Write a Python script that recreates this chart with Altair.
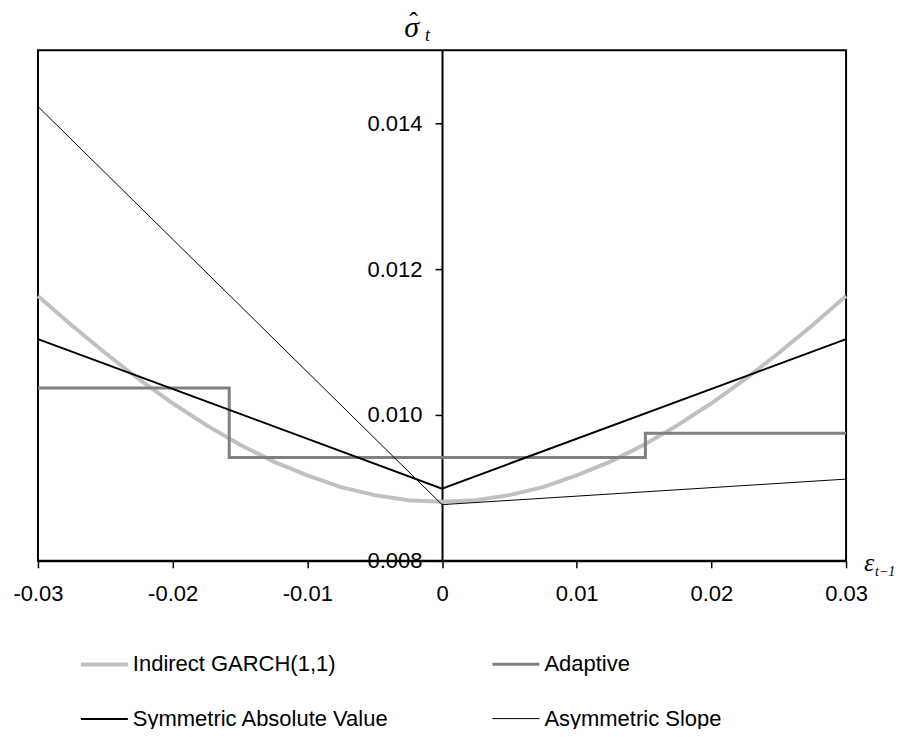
import altair as alt
import pandas as pd

# ---- data ----
series = ["Indirect GARCH(1,1)", "Adaptive", "Symmetric Absolute Value", "Asymmetric Slope"]
colors = ["#c0c0c0", "#808080", "#000000", "#000000"]

x_garch = [-0.03, -0.0275, -0.025, -0.0225, -0.02, -0.0175, -0.015, -0.0125, -0.01, -0.0075,
           -0.005, -0.0025, 0.0, 0.0025, 0.005, 0.0075, 0.01, 0.0125, 0.015, 0.0175,
           0.02, 0.0225, 0.025, 0.0275, 0.03]
y_garch = [0.01163, 0.01123, 0.01085, 0.01049, 0.01016, 0.00986, 0.00959, 0.00936, 0.00917, 0.00901,
           0.00890, 0.00883, 0.00881, 0.00883, 0.00890, 0.00901, 0.00917, 0.00936, 0.00959, 0.00986,
           0.01016, 0.01049, 0.01085, 0.01123, 0.01163]

x_adaptive = [-0.03, -0.0158, -0.0158, 0.0151, 0.0151, 0.03]
y_adaptive = [0.01037, 0.01037, 0.009415, 0.009415, 0.00975, 0.00975]

x_sym = [-0.03, 0.0, 0.03]
y_sym = [0.01104, 0.00899, 0.01104]

x_asym = [-0.03, 0.0, 0.03]
y_asym = [0.01423, 0.00877, 0.00912]

x_ticks = [-0.03, -0.02, -0.01, 0.0, 0.01, 0.02, 0.03]
y_ticks = [0.008, 0.010, 0.012, 0.014]

rows = []
for name, xs, ys in [(series[0], x_garch, y_garch), (series[1], x_adaptive, y_adaptive),
                     (series[2], x_sym, y_sym), (series[3], x_asym, y_asym)]:
    for i, (a, b) in enumerate(zip(xs, ys)):
        rows.append({"series": name, "eps": a, "sigma": b, "idx": i})
df = pd.DataFrame(rows)

legend = alt.Legend(
    title=None, orient="none", legendX=41, legendY=589, columns=2, direction="horizontal",
    columnPadding=97, rowPadding=19, symbolType="stroke", symbolSize=2209,
    labelFont="Liberation Sans", labelFontSize=22, labelColor="black",
    labelOffset=3, labelLimit=400,
)

lines = alt.Chart(df).mark_line().encode(
    x=alt.X("eps:Q", scale=alt.Scale(domain=[-0.03, 0.03], nice=False, zero=False),
            axis=alt.Axis(values=x_ticks, labelExpr="'' + datum.value", title=None, grid=False,
                          tickSize=7, tickWidth=1.5, tickColor="black", domainColor="black",
                          domainWidth=2, labelFont="Liberation Sans", labelFontSize=22,
                          labelColor="black", labelPadding=16, labelFlush=False)),
    y=alt.Y("sigma:Q", scale=alt.Scale(domain=[0.008, 0.015], nice=False, zero=False),
            axis=alt.Axis(values=y_ticks, format=".3f", title=None, grid=False, offset=-404.5,
                          tickSize=7, tickWidth=1.5, tickColor="black", domainColor="black",
                          domainWidth=2, labelFont="Liberation Sans", labelFontSize=22,
                          labelColor="black", labelPadding=13)),
    color=alt.Color("series:N", scale=alt.Scale(domain=series, range=colors), legend=legend),
    strokeWidth=alt.StrokeWidth("series:N", scale=alt.Scale(domain=series, range=[4, 1], padding=0),
                                legend=legend),
    order="idx:Q",
)

sigma_lbl = alt.Chart(pd.DataFrame({"t": ["σ"]})).mark_text(
    font="Liberation Serif", fontStyle="italic", fontSize=30, color="black"
).encode(text="t:N", x=alt.value(374), y=alt.value(-22))
sigma_hat = alt.Chart(pd.DataFrame({"t": ["ˆ"]})).mark_text(
    font="Liberation Serif", fontSize=26, color="black"
).encode(text="t:N", x=alt.value(376), y=alt.value(-28))
sigma_sub = alt.Chart(pd.DataFrame({"t": ["t"]})).mark_text(
    font="Liberation Serif", fontStyle="italic", fontSize=18, color="black"
).encode(text="t:N", x=alt.value(390), y=alt.value(-14))
eps_lbl = alt.Chart(pd.DataFrame({"t": ["ε"]})).mark_text(
    font="Liberation Serif", fontStyle="italic", fontSize=26, color="black"
).encode(text="t:N", x=alt.value(832), y=alt.value(513))
eps_sub = alt.Chart(pd.DataFrame({"t": ["t−1"]})).mark_text(
    font="Liberation Serif", fontStyle="italic", fontSize=14, color="black", align="left"
).encode(text="t:N", x=alt.value(838), y=alt.value(522))

chart = alt.layer(lines, sigma_lbl, sigma_hat, sigma_sub, eps_lbl, eps_sub).properties(
    width=809, height=511, autosize="none",
    padding={"left": 30, "top": 42, "right": 50, "bottom": 168},
).configure_view(stroke="black", strokeWidth=2)

chart.save("out.html", embed_options={"renderer": "svg", "actions": False})
